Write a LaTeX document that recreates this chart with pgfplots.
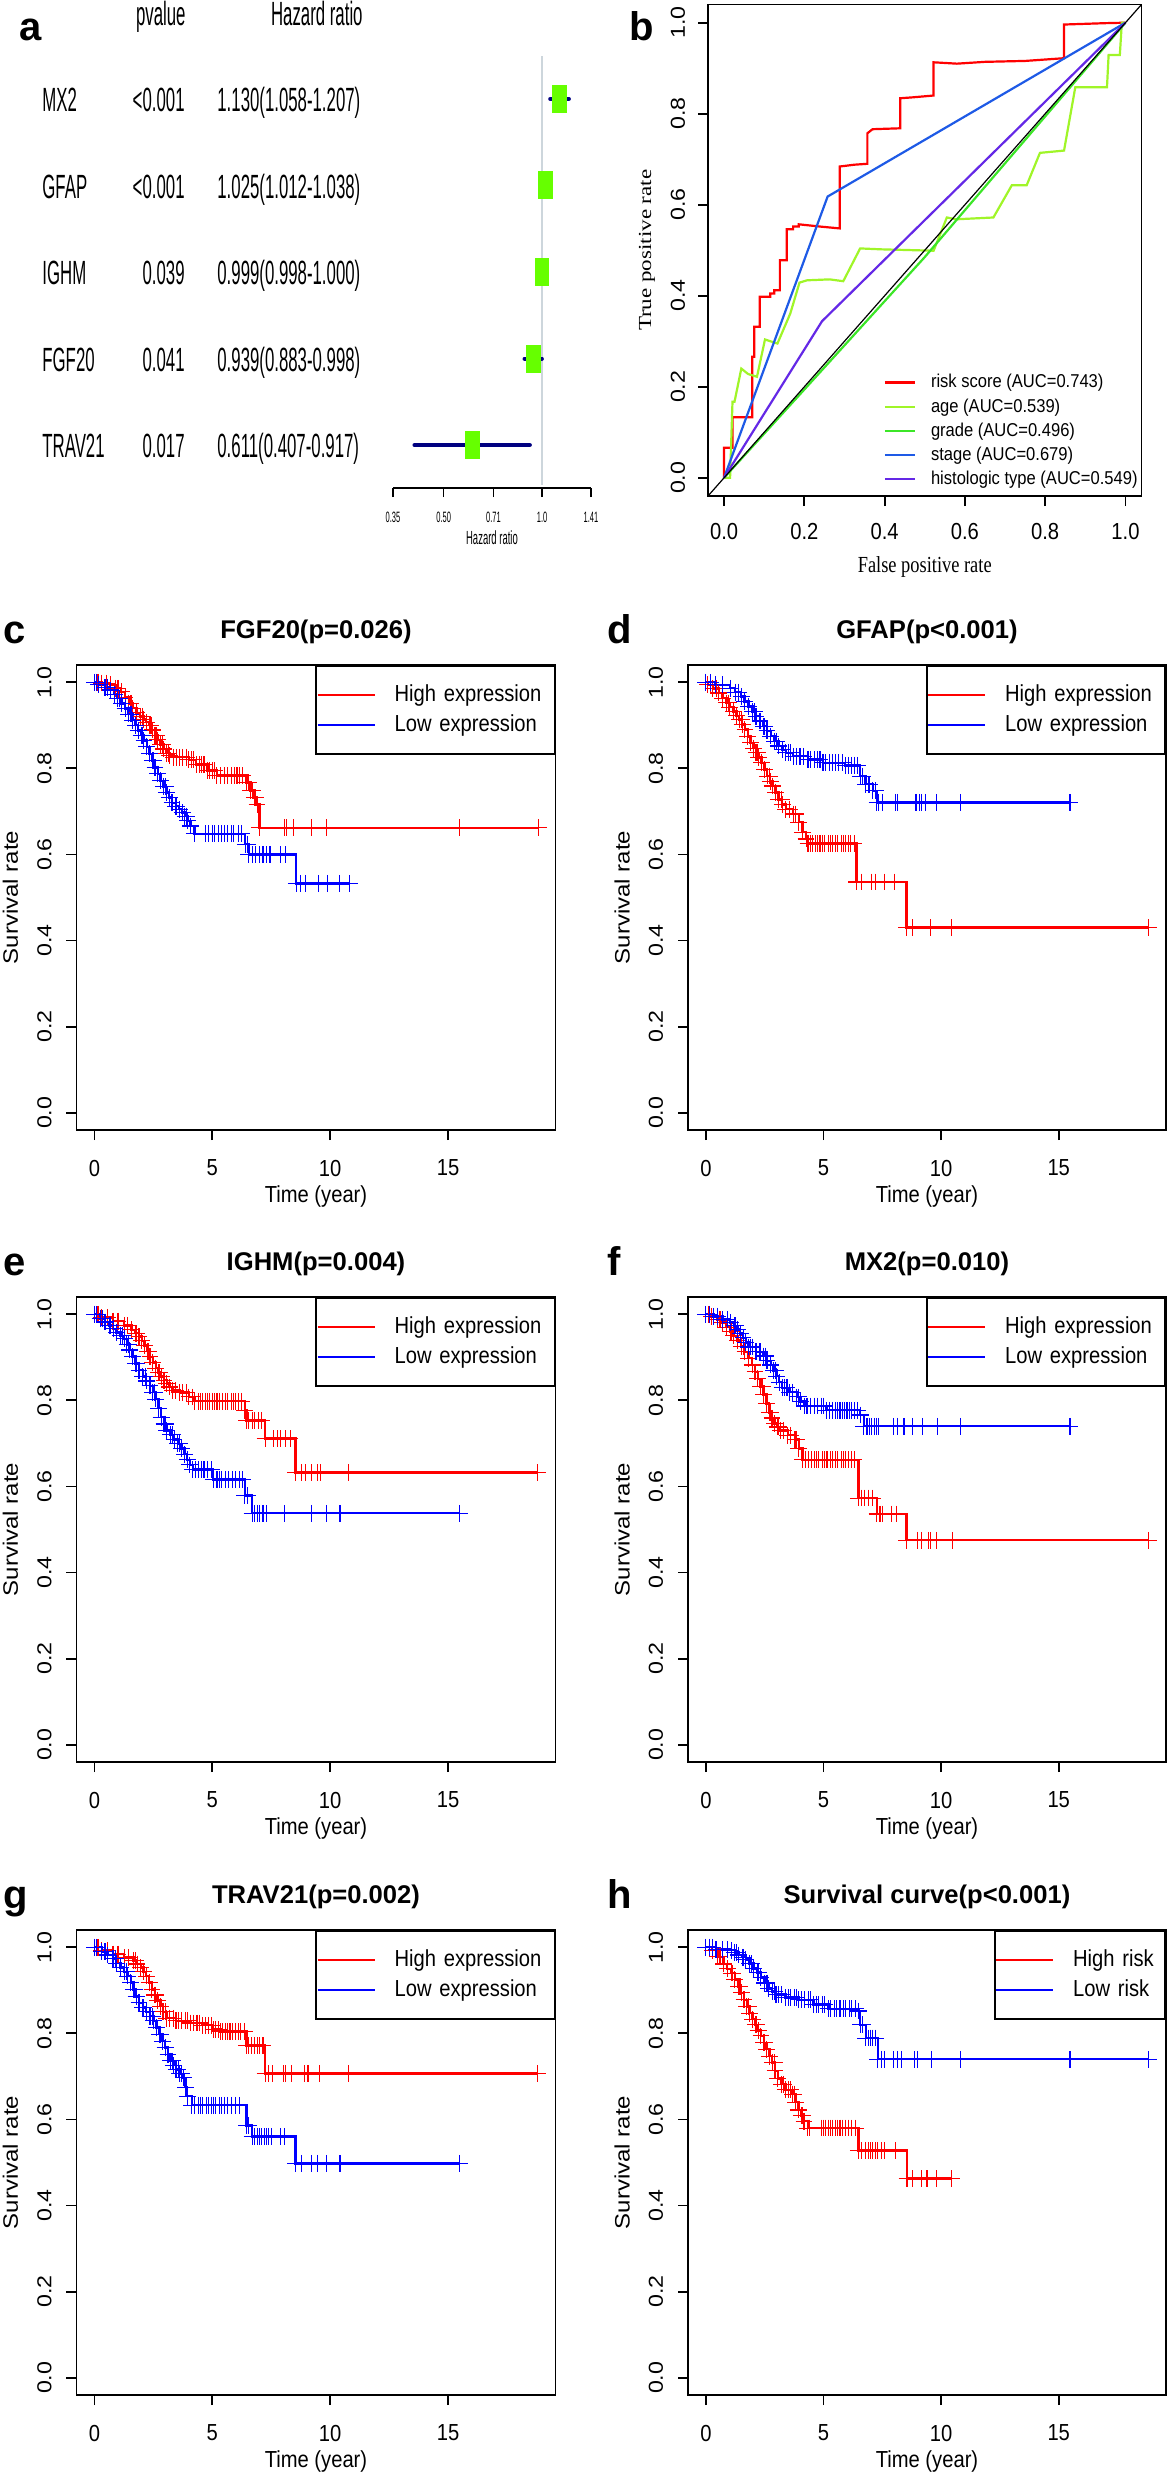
\documentclass[border=0pt]{standalone}
\usepackage{fontspec}
\setmainfont{Liberation Sans}
\newfontfamily\fnarrow[FakeStretch=0.5]{Liberation Sans}
\newfontfamily\fkm[FakeStretch=0.87]{Liberation Sans}
\newfontfamily\froc[FakeStretch=0.89]{Liberation Sans}
\newfontfamily\fserifn[FakeStretch=0.8]{Liberation Serif}
\newfontfamily\fserif{Liberation Serif}
\usepackage{graphicx}
\usepackage{pgfplots}
\usepackage{pgfplotstable}
\pgfplotsset{compat=1.18}

\definecolor{kmred}{RGB}{255,0,0}
\definecolor{kmblue}{RGB}{0,0,255}
\definecolor{forgreen}{RGB}{102,255,0}
\definecolor{cinavy}{RGB}{0,0,128}
\definecolor{refgray}{RGB}{205,214,220}
\definecolor{rocred}{RGB}{255,0,0}
\definecolor{rocage}{RGB}{160,245,40}
\definecolor{rocgrade}{RGB}{60,230,40}
\definecolor{rocstage}{RGB}{30,90,230}
\definecolor{rochist}{RGB}{100,40,230}

\newcommand\ffor{\fnarrow\fontsize{16.8}{20}\selectfont}
\newcommand\fforsmall{\fnarrow\fontsize{7.5}{9}\selectfont}
\newcommand\fforlab{\fnarrow\fontsize{9.5}{11}\selectfont}
\newcommand\ftick{\fkm\fontsize{11.6}{13}\selectfont}
\newcommand\frtick{\fontsize{11.6}{13}\selectfont}
\newcommand\flab{\fontsize{12}{14}\selectfont}
\newcommand\fleg{\fkm\fontsize{11.6}{13}\selectfont}
\newcommand\ftitle{\bfseries\fontsize{12.8}{15}\selectfont}
\newcommand\fletter{\bfseries\fontsize{20}{24}\selectfont}
\newcommand\frocleg{\froc\fontsize{9.3}{11}\selectfont}
\newcommand\rt[1]{\scalebox{1}[0.87]{#1}}

\pgfdeclareplotmark{hrbox}{\pgfpathrectangle{\pgfpoint{-3.7pt}{-7pt}}{\pgfpoint{7.4pt}{14pt}}\pgfusepathqfill}

% ---------------- forest data ----------------
\pgfplotstableread{
gene hr lo hi y
MX2 1.130 1.058 1.207 5
GFAP 1.025 1.012 1.038 4
IGHM 0.999 0.998 1.000 3
FGF20 0.939 0.883 0.998 2
TRAV21 0.611 0.407 0.917 1
}\forestdata

% ---------------- ROC data ----------------
\pgfplotstableread{
x y
0 0
0 0.066
0.021 0.066
0.021 0.133
0.070 0.133
0.070 0.266
0.075 0.266
0.075 0.332
0.089 0.332
0.089 0.398
0.115 0.398
0.115 0.405
0.125 0.405
0.125 0.412
0.139 0.412
0.139 0.478
0.156 0.478
0.156 0.546
0.172 0.546
0.172 0.552
0.186 0.552
0.186 0.557
0.240 0.552
0.288 0.548
0.288 0.684
0.325 0.688
0.357 0.690
0.357 0.757
0.370 0.766
0.439 0.768
0.439 0.834
0.470 0.836
0.522 0.840
0.522 0.913
0.580 0.910
0.650 0.914
0.750 0.916
0.847 0.922
0.847 0.996
0.950 0.999
1.000 1.000
}\rocRisk
\pgfplotstableread{
x y
0 0
0.015 0
0.021 0.167
0.026 0.167
0.043 0.240
0.060 0.228
0.082 0.222
0.102 0.304
0.133 0.295
0.165 0.361
0.188 0.429
0.207 0.434
0.263 0.436
0.297 0.432
0.339 0.504
0.392 0.502
0.522 0.499
0.555 0.572
0.578 0.568
0.671 0.572
0.717 0.643
0.754 0.643
0.787 0.714
0.847 0.719
0.875 0.858
0.954 0.858
0.958 0.929
0.986 0.929
0.991 1.0
1.0 1.0
}\rocAge
\pgfplotstableread{
x y
0 0
0.5 0.485
1 1
}\rocGrade
\pgfplotstableread{
x y
0 0
0.258 0.618
1 1
}\rocStage
\pgfplotstableread{
x y
0 0
0.244 0.344
1 1
}\rocHist

% ---------------- KM data ----------------
% c FGF20
\pgfplotstableread{
t s
0 1
0.30 0.998
0.67 0.994
0.90 0.986
1.14 0.978
1.30 0.965
1.46 0.951
1.62 0.940
1.78 0.929
1.94 0.920
2.10 0.913
2.20 0.907
2.33 0.900
2.45 0.889
2.57 0.877
2.69 0.866
2.81 0.855
2.93 0.845
3.05 0.835
3.20 0.830
3.37 0.826
4.00 0.820
4.32 0.809
4.79 0.795
5.19 0.783
6.46 0.767
6.62 0.749
6.78 0.732
6.90 0.716
7.00 0.662
18.84 0.662
}\cHs
\pgfplotstableread{
t s
0.15 1
0.5 0.998
1.0 0.986
1.55 0.951
2.05 0.920
2.4 0.900
2.65 0.877
2.9 0.855
3.15 0.835
3.5 0.826
3.6 0.826
3.75 0.826
3.9 0.826
4.1 0.820
4.2 0.820
4.45 0.809
4.55 0.809
4.65 0.809
4.9 0.795
5.0 0.795
5.1 0.795
5.35 0.783
5.5 0.783
5.65 0.783
5.8 0.783
5.95 0.783
6.05 0.783
6.15 0.783
6.3 0.783
6.55 0.767
6.7 0.749
6.85 0.732
7.02 0.662
8.05 0.662
8.13 0.662
8.44 0.662
9.21 0.662
9.84 0.662
15.5 0.662
}\cHc
\pgfplotstableread{
t s
0 1
0.19 0.994
0.45 0.988
0.67 0.982
0.85 0.972
0.98 0.963
1.15 0.951
1.30 0.939
1.45 0.926
1.62 0.912
1.75 0.900
1.86 0.888
1.98 0.877
2.10 0.865
2.22 0.850
2.33 0.834
2.45 0.818
2.57 0.802
2.69 0.787
2.81 0.771
2.93 0.757
3.05 0.744
3.17 0.732
3.29 0.720
3.45 0.712
3.60 0.705
3.72 0.697
3.84 0.689
3.96 0.678
4.08 0.666
4.24 0.648
6.40 0.624
6.55 0.600
8.56 0.533
10.83 0.533
}\cLs
\pgfplotstableread{
t s
0.1 1
0.55 0.988
1.05 0.963
1.55 0.926
2.03 0.877
2.5 0.818
3.0 0.757
3.5 0.712
3.9 0.689
4.7 0.648
4.85 0.648
5.0 0.648
5.1 0.648
5.25 0.648
5.4 0.648
5.5 0.648
5.65 0.648
5.8 0.648
5.9 0.648
6.1 0.648
6.25 0.648
6.48 0.624
6.7 0.600
6.85 0.600
7.0 0.600
7.15 0.600
7.3 0.600
7.45 0.600
7.9 0.600
8.1 0.600
8.75 0.533
8.95 0.533
9.5 0.533
9.9 0.533
10.4 0.533
}\cLc
% d GFAP
\pgfplotstableread{
t s
0 1
0.08 0.994
0.30 0.985
0.55 0.975
0.70 0.963
0.87 0.952
1.02 0.942
1.18 0.932
1.30 0.922
1.42 0.913
1.54 0.902
1.66 0.890
1.78 0.874
1.90 0.859
2.02 0.847
2.13 0.836
2.25 0.825
2.37 0.813
2.49 0.797
2.61 0.782
2.73 0.770
2.84 0.759
2.96 0.744
3.08 0.728
3.24 0.716
3.40 0.705
3.71 0.694
3.95 0.675
4.10 0.652
4.26 0.636
4.34 0.625
6.40 0.536
8.53 0.430
18.80 0.430
}\dHs
\pgfplotstableread{
t s
0.2 0.994
0.45 0.985
0.95 0.952
1.5 0.913
2.2 0.836
2.7 0.782
3.2 0.728
3.55 0.705
3.8 0.694
4.45 0.625
4.55 0.625
4.65 0.625
4.75 0.625
4.85 0.625
4.95 0.625
5.05 0.625
5.2 0.625
5.3 0.625
5.4 0.625
5.5 0.625
5.6 0.625
5.75 0.625
5.85 0.625
5.95 0.625
6.05 0.625
6.15 0.625
6.3 0.625
6.6 0.536
7.05 0.536
7.2 0.536
7.6 0.536
8.0 0.536
8.77 0.430
9.56 0.430
10.46 0.430
}\dHc
\pgfplotstableread{
t s
0 1
0.40 0.994
1.03 0.986
1.25 0.977
1.50 0.967
1.65 0.955
1.82 0.944
1.98 0.932
2.13 0.921
2.30 0.910
2.45 0.898
2.60 0.887
2.76 0.875
2.92 0.863
3.08 0.852
3.25 0.843
3.40 0.836
3.71 0.828
4.34 0.821
4.98 0.813
5.92 0.807
6.56 0.782
6.79 0.763
7.10 0.748
7.27 0.721
15.48 0.721
}\dLs
\pgfplotstableread{
t s
0.2 1
0.7 0.994
1.4 0.977
2.05 0.932
2.5 0.898
3.0 0.863
3.5 0.836
3.6 0.836
3.85 0.828
4.0 0.828
4.15 0.828
4.45 0.821
4.6 0.821
4.75 0.821
4.85 0.821
5.1 0.813
5.25 0.813
5.4 0.813
5.5 0.813
5.65 0.813
5.8 0.813
6.05 0.807
6.2 0.807
6.3 0.807
6.45 0.807
6.65 0.782
6.9 0.763
6.95 0.763
7.2 0.748
7.35 0.721
7.5 0.721
8.06 0.721
8.14 0.721
8.93 0.721
9.08 0.721
9.16 0.721
9.32 0.721
9.79 0.721
10.82 0.721
}\dLc
% e IGHM
\pgfplotstableread{
t s
0 1
0.31 0.992
0.79 0.984
1.26 0.974
1.57 0.964
1.75 0.956
1.89 0.948
2.01 0.938
2.13 0.927
2.25 0.914
2.36 0.901
2.48 0.888
2.60 0.875
2.72 0.865
2.83 0.855
2.95 0.847
3.07 0.839
3.19 0.831
3.31 0.823
3.62 0.818
4.01 0.808
4.25 0.798
6.38 0.777
6.45 0.753
7.24 0.711
8.53 0.632
18.78 0.632
}\eHs
\pgfplotstableread{
t s
0.15 1
0.55 0.992
1.0 0.984
1.4 0.974
1.8 0.956
2.3 0.914
2.78 0.865
3.45 0.823
3.75 0.818
3.9 0.818
4.15 0.808
4.4 0.798
4.5 0.798
4.6 0.798
4.7 0.798
4.8 0.798
4.9 0.798
5.0 0.798
5.1 0.798
5.2 0.798
5.3 0.798
5.45 0.798
5.55 0.798
5.65 0.798
5.8 0.798
5.9 0.798
6.0 0.798
6.1 0.798
6.25 0.798
6.55 0.753
6.7 0.753
6.8 0.753
6.95 0.753
7.1 0.753
7.6 0.711
7.75 0.711
7.9 0.711
8.1 0.711
8.3 0.711
8.8 0.632
8.97 0.632
9.2 0.632
9.45 0.632
9.6 0.632
10.79 0.632
}\eHc
\pgfplotstableread{
t s
0 1
0.24 0.990
0.45 0.982
0.63 0.974
0.80 0.966
0.94 0.958
1.10 0.950
1.26 0.943
1.38 0.930
1.50 0.917
1.62 0.902
1.73 0.886
1.89 0.870
2.05 0.855
2.20 0.845
2.36 0.834
2.48 0.819
2.60 0.803
2.72 0.782
2.83 0.761
2.95 0.745
3.07 0.730
3.22 0.720
3.38 0.709
3.54 0.699
3.70 0.688
3.82 0.675
3.94 0.662
4.05 0.650
4.17 0.639
5.04 0.616
6.38 0.579
6.69 0.538
15.50 0.538
}\eLs
\pgfplotstableread{
t s
0.1 1
0.35 0.990
0.7 0.974
1.2 0.950
1.45 0.930
1.8 0.886
2.15 0.855
2.55 0.819
3.0 0.745
3.3 0.720
3.6 0.699
4.3 0.639
4.4 0.639
4.55 0.639
4.65 0.639
4.8 0.639
4.95 0.639
5.2 0.616
5.3 0.616
5.4 0.616
5.55 0.616
5.7 0.616
5.85 0.616
6.0 0.616
6.15 0.616
6.3 0.616
6.5 0.579
6.8 0.538
6.9 0.538
7.0 0.538
7.15 0.538
7.3 0.538
8.06 0.538
9.21 0.538
9.84 0.538
10.42 0.538
}\eLc
% f MX2
\pgfplotstableread{
t s
0 1
0.24 0.995
0.50 0.988
0.71 0.981
0.87 0.970
1.03 0.960
1.18 0.950
1.34 0.939
1.50 0.926
1.66 0.913
1.82 0.898
1.97 0.882
2.09 0.866
2.21 0.850
2.33 0.832
2.45 0.814
2.57 0.793
2.69 0.772
2.81 0.759
2.92 0.746
3.04 0.738
3.16 0.730
3.48 0.719
3.79 0.709
3.95 0.688
4.11 0.662
6.48 0.573
7.27 0.536
8.53 0.475
18.80 0.475
}\fHs
\pgfplotstableread{
t s
0.1 1
0.6 0.988
1.1 0.960
1.6 0.926
2.0 0.882
2.4 0.832
2.75 0.772
3.1 0.738
3.3 0.730
3.6 0.719
3.85 0.709
4.25 0.662
4.35 0.662
4.5 0.662
4.6 0.662
4.7 0.662
4.8 0.662
4.95 0.662
5.05 0.662
5.15 0.662
5.3 0.662
5.4 0.662
5.5 0.662
5.6 0.662
5.75 0.662
5.85 0.662
5.95 0.662
6.05 0.662
6.2 0.662
6.3 0.662
6.6 0.573
6.75 0.573
6.9 0.573
7.1 0.573
7.4 0.536
7.5 0.536
7.9 0.536
8.1 0.536
9.0 0.475
9.16 0.475
9.48 0.475
9.56 0.475
9.8 0.475
10.47 0.475
}\fHc
\pgfplotstableread{
t s
0 1
0.32 0.995
0.71 0.988
1.03 0.981
1.20 0.973
1.34 0.965
1.46 0.955
1.58 0.945
1.70 0.934
1.82 0.924
2.13 0.913
2.45 0.903
2.60 0.892
2.76 0.882
2.88 0.869
3.00 0.856
3.12 0.842
3.24 0.829
3.55 0.819
3.87 0.808
4.03 0.797
4.19 0.787
5.13 0.777
6.56 0.766
6.71 0.740
15.48 0.740
}\fLs
\pgfplotstableread{
t s
0.15 1
0.5 0.995
0.9 0.988
1.25 0.973
1.9 0.924
2.0 0.924
2.3 0.913
2.55 0.903
2.95 0.869
3.35 0.829
3.45 0.829
3.7 0.819
3.95 0.808
4.3 0.787
4.45 0.787
4.6 0.787
4.75 0.787
4.9 0.787
5.0 0.787
5.25 0.777
5.4 0.777
5.5 0.777
5.6 0.777
5.7 0.777
5.8 0.777
5.9 0.777
6.0 0.777
6.1 0.777
6.2 0.777
6.3 0.777
6.45 0.777
6.85 0.740
6.95 0.740
7.05 0.740
7.15 0.740
7.25 0.740
7.35 0.740
7.97 0.740
8.13 0.740
8.42 0.740
8.77 0.740
9.21 0.740
9.84 0.740
10.82 0.740
}\fLc
% g TRAV21
\pgfplotstableread{
t s
0 1
0.31 0.992
0.79 0.984
1.26 0.976
1.65 0.969
1.81 0.961
1.97 0.953
2.08 0.943
2.20 0.933
2.32 0.918
2.44 0.902
2.56 0.889
2.68 0.876
2.80 0.863
2.91 0.850
3.07 0.835
3.46 0.829
4.09 0.824
4.57 0.819
5.04 0.809
5.35 0.804
6.46 0.772
7.24 0.707
18.78 0.707
}\gHs
\pgfplotstableread{
t s
0.15 1
0.55 0.992
1.0 0.984
1.45 0.976
1.75 0.969
2.1 0.943
2.6 0.889
3.0 0.850
3.2 0.835
3.35 0.835
3.55 0.829
3.7 0.829
3.85 0.829
3.95 0.829
4.2 0.824
4.35 0.824
4.45 0.824
4.7 0.819
4.85 0.819
4.95 0.819
5.15 0.809
5.25 0.809
5.45 0.804
5.55 0.804
5.65 0.804
5.75 0.804
5.85 0.804
6.0 0.804
6.1 0.804
6.2 0.804
6.35 0.804
6.55 0.772
6.65 0.772
6.8 0.772
6.9 0.772
7.0 0.772
7.15 0.772
7.37 0.707
7.56 0.707
8.03 0.707
8.11 0.707
8.35 0.707
8.9 0.707
9.06 0.707
9.53 0.707
10.79 0.707
}\gHc
\pgfplotstableread{
t s
0 1
0.31 0.990
0.55 0.982
0.79 0.974
0.95 0.963
1.10 0.953
1.26 0.943
1.42 0.933
1.54 0.918
1.65 0.902
1.77 0.886
1.89 0.871
2.05 0.860
2.20 0.850
2.36 0.840
2.52 0.829
2.64 0.814
2.76 0.798
2.88 0.782
3.00 0.767
3.12 0.751
3.23 0.736
3.35 0.726
3.46 0.716
3.62 0.706
3.78 0.697
3.86 0.675
3.94 0.654
4.13 0.633
6.46 0.586
6.69 0.560
8.53 0.498
15.50 0.498
}\gLs
\pgfplotstableread{
t s
0.1 1
0.45 0.990
0.9 0.974
1.35 0.943
1.7 0.902
2.1 0.860
2.45 0.840
2.8 0.798
3.3 0.736
3.55 0.716
3.7 0.706
4.25 0.633
4.4 0.633
4.5 0.633
4.6 0.633
4.75 0.633
4.85 0.633
4.95 0.633
5.05 0.633
5.15 0.633
5.3 0.633
5.4 0.633
5.5 0.633
5.65 0.633
5.8 0.633
6.0 0.633
6.15 0.633
6.55 0.586
6.8 0.560
6.9 0.560
7.0 0.560
7.1 0.560
7.2 0.560
7.3 0.560
7.4 0.560
7.5 0.560
7.9 0.560
8.05 0.560
8.79 0.498
9.21 0.498
9.45 0.498
9.84 0.498
10.42 0.498
}\gLc
% h risk
\pgfplotstableread{
t s
0 1
0.27 0.993
0.50 0.978
0.75 0.961
0.91 0.950
1.07 0.940
1.23 0.925
1.39 0.909
1.50 0.894
1.62 0.878
1.74 0.862
1.86 0.847
1.98 0.833
2.10 0.820
2.22 0.807
2.34 0.794
2.46 0.778
2.58 0.763
2.70 0.747
2.82 0.732
2.94 0.713
3.06 0.695
3.22 0.682
3.38 0.669
3.69 0.659
3.81 0.640
3.93 0.622
4.05 0.609
4.17 0.596
4.33 0.580
6.48 0.528
8.55 0.463
10.46 0.463
}\hHs
\pgfplotstableread{
t s
0.15 1
0.6 0.978
1.15 0.940
1.45 0.909
1.8 0.862
2.15 0.820
2.5 0.778
2.9 0.732
3.3 0.682
3.5 0.669
3.6 0.669
3.75 0.659
4.1 0.609
4.4 0.580
4.9 0.580
5.0 0.580
5.1 0.580
5.2 0.580
5.3 0.580
5.4 0.580
5.5 0.580
5.6 0.580
5.7 0.580
5.8 0.580
5.95 0.580
6.05 0.580
6.2 0.580
6.35 0.580
6.6 0.528
6.8 0.528
6.9 0.528
7.0 0.528
7.1 0.528
7.2 0.528
7.3 0.528
7.45 0.528
7.6 0.528
8.07 0.528
8.77 0.463
9.16 0.463
9.4 0.463
9.8 0.463
}\hHc
\pgfplotstableread{
t s
0 1
0.43 0.995
1.07 0.993
1.23 0.988
1.39 0.982
1.55 0.977
1.70 0.972
1.86 0.962
2.02 0.951
2.18 0.941
2.34 0.930
2.50 0.917
2.66 0.904
2.82 0.897
2.98 0.890
3.38 0.883
3.93 0.878
4.57 0.867
5.21 0.857
6.48 0.852
6.56 0.820
6.80 0.789
7.31 0.740
18.82 0.740
}\hLs
\pgfplotstableread{
t s
0.15 1
0.3 1
0.7 0.995
0.9 0.995
1.3 0.988
1.6 0.977
1.95 0.962
2.25 0.941
2.6 0.917
2.9 0.897
3.1 0.890
3.2 0.890
3.5 0.883
3.6 0.883
3.75 0.883
3.85 0.883
4.05 0.878
4.2 0.878
4.35 0.878
4.45 0.878
4.7 0.867
4.8 0.867
4.95 0.867
5.05 0.867
5.3 0.857
5.45 0.857
5.55 0.857
5.7 0.857
5.85 0.857
5.95 0.857
6.1 0.857
6.2 0.857
6.35 0.857
6.65 0.820
6.9 0.789
7.0 0.789
7.1 0.789
7.2 0.789
7.45 0.740
7.6 0.740
7.97 0.740
8.13 0.740
8.3 0.740
8.85 0.740
9.0 0.740
9.59 0.740
10.81 0.740
15.48 0.740
}\hLc

\pgfplotsset{
  kmaxis/.style={
    scale only axis, height=232.5pt, anchor=north west,
    xmin=-0.76, xmax=19.56, ymin=-0.04, ymax=1.04,
    xtick={0,5,10,15}, ytick={0,0.2,0.4,0.6,0.8,1},
    xticklabels={,,,}, yticklabels={,,,,,},
    tick align=outside, tick pos=left, major tick length=5pt,
    every tick/.style={black, line width=0.9pt},
    axis line style={line width=0.9pt},
    clip=false,
    legend cell align=left,
    legend style={at={(1,1)}, anchor=north east, draw=black, line width=0.9pt,
      inner xsep=0pt, inner ysep=7pt, column sep=9.4pt, row sep=0pt,
      font=\fleg, nodes={inner sep=0pt, minimum height=15pt, text width=80pt, align=left}},
    legend image code/.code={\path (0pt,0pt) -- (9pt,0pt); \draw[##1] (9pt,0pt) -- (28.5pt,0pt);},
  },
}

\newcommand\kmcurve[3]{%
  \addplot[#1, line width=1.2pt, const plot, forget plot, mark=+, mark size=4.2pt, mark options={line width=0.55pt}] table[x=t,y=s] {#2};
  \addplot[#1, only marks, forget plot, mark=+, mark size=4.2pt, mark options={line width=0.55pt}] table[x=t,y=s] {#3};
}

\newcommand\kmdecor[3]{%
  \node[font=\ftick] at (axis cs:0,-0.1283) {0};
  \node[font=\ftick] at (axis cs:5,-0.1283) {5};
  \node[font=\ftick] at (axis cs:10,-0.1283) {10};
  \node[font=\ftick] at (axis cs:15,-0.1283) {15};
  \node[rotate=90,font=\frtick] at (axis cs:-2.12,0) {\rt{0.0}};
  \node[rotate=90,font=\frtick] at (axis cs:-2.12,0.2) {\rt{0.2}};
  \node[rotate=90,font=\frtick] at (axis cs:-2.12,0.4) {\rt{0.4}};
  \node[rotate=90,font=\frtick] at (axis cs:-2.12,0.6) {\rt{0.6}};
  \node[rotate=90,font=\frtick] at (axis cs:-2.12,0.8) {\rt{0.8}};
  \node[rotate=90,font=\frtick] at (axis cs:-2.12,1) {\rt{1.0}};
  \node[font=\ftick] at (axis cs:9.4,-0.1933) {Time (year)};
  \node[rotate=90,font=\flab] at (axis cs:-3.56,0.5) {\rt{Survival rate}};
  \node[font=\ftitle] at (axis cs:9.4,1.1166) {#1};
  \node[font=\fletter,anchor=base west,inner sep=0pt] at (axis cs:#3,1.091) {#2};
}

\begin{document}
\begin{tikzpicture}
\path[use as bounding box] (0,0) rectangle (584pt,-1239.5pt);

% ================= panel a: forest =================
\node[font=\fletter,anchor=base west,inner sep=0pt] at (9.3pt,-20pt) {a};
\node[font=\ffor,anchor=base east,inner sep=0pt] at (93pt,-12.5pt) {pvalue};
\node[font=\ffor,anchor=base east,inner sep=0pt] at (181.5pt,-12.5pt) {Hazard ratio};
\foreach \g/\p/\h/\yy in {MX2/{<0.001}/{1.130(1.058-1.207)}/55.5,
                          GFAP/{<0.001}/{1.025(1.012-1.038)}/99,
                          IGHM/{0.039}/{0.999(0.998-1.000)}/142,
                          FGF20/{0.041}/{0.939(0.883-0.998)}/185.5,
                          TRAV21/{0.017}/{0.611(0.407-0.917)}/228.5}{
  \node[font=\ffor,anchor=base west,inner sep=0pt] at (21pt,-\yy pt) {\g};
  \node[font=\ffor,anchor=base east,inner sep=0pt] at (92.5pt,-\yy pt) {\p};
  \node[font=\ffor,anchor=base west,inner sep=0pt] at (108.5pt,-\yy pt) {\h};
}
\begin{axis}[
  at={(196.5pt,-244pt)}, anchor=south west, scale only axis,
  width=99pt, height=220.5pt,
  xmode=log, log basis x=2, xmin=0.35, xmax=1.41,
  ymin=0.503, ymax=5.601,
  axis x line*=bottom, axis y line=none,
  x axis line style={line width=0.8pt},
  xtick={0.35,0.5,0.71,1,1.41}, xticklabels={,,,,},
  xminorticks=false, minor x tick num=0,
  tick align=outside, major tick length=4.5pt,
  every tick/.style={black, line width=0.8pt},
  clip=false,
]
\addplot[refgray, line width=1pt] coordinates {(1,0.54) (1,5.497)};
\addplot[cinavy, line width=2pt, line cap=round] coordinates {(1.058,5) (1.207,5)};
\addplot[cinavy, line width=2pt, line cap=round] coordinates {(1.012,4) (1.038,4)};
\addplot[cinavy, line width=2pt, line cap=round] coordinates {(0.998,3) (1.000,3)};
\addplot[cinavy, line width=2pt, line cap=round] coordinates {(0.883,2) (0.998,2)};
\addplot[cinavy, line width=2pt, line cap=round] coordinates {(0.407,1) (0.917,1)};
\addplot[only marks, color=forgreen, mark=hrbox] table[x=hr,y=y] {\forestdata};
\node[font=\fforsmall] at (axis cs:0.35,0.503) [yshift=-14.5pt] {0.35};
\node[font=\fforsmall] at (axis cs:0.5,0.503) [yshift=-14.5pt] {0.50};
\node[font=\fforsmall] at (axis cs:0.71,0.503) [yshift=-14.5pt] {0.71};
\node[font=\fforsmall] at (axis cs:1,0.503) [yshift=-14.5pt] {1.0};
\node[font=\fforsmall] at (axis cs:1.41,0.503) [yshift=-14.5pt] {1.41};
\node[font=\fforlab] at (axis cs:0.7025,0.503) [yshift=-25pt] {Hazard ratio};
\end{axis}

% ================= panel b: ROC =================
\begin{axis}[
  at={(354pt,-2.25pt)}, anchor=north west, scale only axis,
  width=216.75pt, height=245.75pt,
  xmin=-0.04, xmax=1.04, ymin=-0.04, ymax=1.04,
  xtick={0,0.2,0.4,0.6,0.8,1}, ytick={0,0.2,0.4,0.6,0.8,1},
  xticklabels={,,,,,}, yticklabels={,,,,,},
  tick align=outside, tick pos=left, major tick length=5pt,
  every tick/.style={black, line width=0.9pt},
  axis line style={line width=0.9pt},
  clip=false,
  legend cell align=left,
  legend style={at={(0.4046,0.2562)}, anchor=north west, draw=none, fill=none,
    inner sep=0pt, row sep=0pt, column sep=7.5pt, font=\frocleg,
    nodes={inner sep=0pt, minimum height=12.1pt}},
  legend image code/.code={\draw[#1] (0pt,0pt) -- (15pt,0pt);},
]
\addplot[rocred, line width=1.1pt] table[x=x,y=y] {\rocRisk};
\addlegendentry{risk score (AUC=0.743)}
\addplot[rocage, line width=1.1pt] table[x=x,y=y] {\rocAge};
\addlegendentry{age (AUC=0.539)}
\addplot[rocgrade, line width=1.1pt] table[x=x,y=y] {\rocGrade};
\addlegendentry{grade (AUC=0.496)}
\addplot[rocstage, line width=1.1pt] table[x=x,y=y] {\rocStage};
\addlegendentry{stage (AUC=0.679)}
\addplot[rochist, line width=1.1pt] table[x=x,y=y] {\rocHist};
\addlegendentry{histologic type (AUC=0.549)}
\addplot[black, line width=0.6pt, forget plot] coordinates {(-0.04,-0.04) (1.04,1.04)};
\node[font=\ftick] at (axis cs:0,-0.119) {0.0};
\node[font=\ftick] at (axis cs:0.2,-0.119) {0.2};
\node[font=\ftick] at (axis cs:0.4,-0.119) {0.4};
\node[font=\ftick] at (axis cs:0.6,-0.119) {0.6};
\node[font=\ftick] at (axis cs:0.8,-0.119) {0.8};
\node[font=\ftick] at (axis cs:1,-0.119) {1.0};
\node[rotate=90,font=\frtick] at (axis cs:-0.1147,0) {\rt{0.0}};
\node[rotate=90,font=\frtick] at (axis cs:-0.1147,0.2) {\rt{0.2}};
\node[rotate=90,font=\frtick] at (axis cs:-0.1147,0.4) {\rt{0.4}};
\node[rotate=90,font=\frtick] at (axis cs:-0.1147,0.6) {\rt{0.6}};
\node[rotate=90,font=\frtick] at (axis cs:-0.1147,0.8) {\rt{0.8}};
\node[rotate=90,font=\frtick] at (axis cs:-0.1147,1) {\rt{1.0}};
\node[font=\fserifn\fontsize{11.5}{13}\selectfont] at (axis cs:0.5,-0.196) {False positive rate};
\node[rotate=90,font=\fserif\fontsize{11.5}{13}\selectfont] at (axis cs:-0.192,0.5) {\scalebox{1}[0.8]{True positive rate}};
\node[font=\fletter,anchor=base west,inner sep=0pt] at (axis cs:-0.2368,0.962) {b};
\end{axis}

% ================= panel c =================
\begin{axis}[kmaxis, at={(38.25pt,-332.5pt)}, width=239.5pt]
\kmcurve{kmred}{\cHs}{\cHc}
\kmcurve{kmblue}{\cLs}{\cLc}
\addlegendimage{kmred, line width=1.2pt}\addlegendentry{High expression}
\addlegendimage{kmblue, line width=1.2pt}\addlegendentry{Low expression}
\kmdecor{FGF20(p=0.026)}{c}{-3.878}
\end{axis}

% ================= panel d =================
\begin{axis}[kmaxis, at={(344pt,-332.5pt)}, width=239pt]
\kmcurve{kmred}{\dHs}{\dHc}
\kmcurve{kmblue}{\dLs}{\dLc}
\addlegendimage{kmred, line width=1.2pt}\addlegendentry{High expression}
\addlegendimage{kmblue, line width=1.2pt}\addlegendentry{Low expression}
\kmdecor{GFAP(p<0.001)}{d}{-4.203}
\end{axis}

% ================= panel e =================
\begin{axis}[kmaxis, at={(38.25pt,-648.5pt)}, width=239.5pt]
\kmcurve{kmred}{\eHs}{\eHc}
\kmcurve{kmblue}{\eLs}{\eLc}
\addlegendimage{kmred, line width=1.2pt}\addlegendentry{High expression}
\addlegendimage{kmblue, line width=1.2pt}\addlegendentry{Low expression}
\kmdecor{IGHM(p=0.004)}{e}{-3.878}
\end{axis}

% ================= panel f =================
\begin{axis}[kmaxis, at={(344pt,-648.5pt)}, width=239pt]
\kmcurve{kmred}{\fHs}{\fHc}
\kmcurve{kmblue}{\fLs}{\fLc}
\addlegendimage{kmred, line width=1.2pt}\addlegendentry{High expression}
\addlegendimage{kmblue, line width=1.2pt}\addlegendentry{Low expression}
\kmdecor{MX2(p=0.010)}{f}{-4.203}
\end{axis}

% ================= panel g =================
\begin{axis}[kmaxis, at={(38.25pt,-965pt)}, width=239.5pt]
\kmcurve{kmred}{\gHs}{\gHc}
\kmcurve{kmblue}{\gLs}{\gLc}
\addlegendimage{kmred, line width=1.2pt}\addlegendentry{High expression}
\addlegendimage{kmblue, line width=1.2pt}\addlegendentry{Low expression}
\kmdecor{TRAV21(p=0.002)}{g}{-3.878}
\end{axis}

% ================= panel h =================
\begin{axis}[kmaxis, at={(344pt,-965pt)}, width=239pt,
  legend style={nodes={text width=46pt}}]
\kmcurve{kmred}{\hHs}{\hHc}
\kmcurve{kmblue}{\hLs}{\hLc}
\addlegendimage{kmred, line width=1.2pt}\addlegendentry{High risk}
\addlegendimage{kmblue, line width=1.2pt}\addlegendentry{Low risk}
\kmdecor{Survival curve(p<0.001)}{h}{-4.203}
\end{axis}
\end{tikzpicture}
\end{document}
